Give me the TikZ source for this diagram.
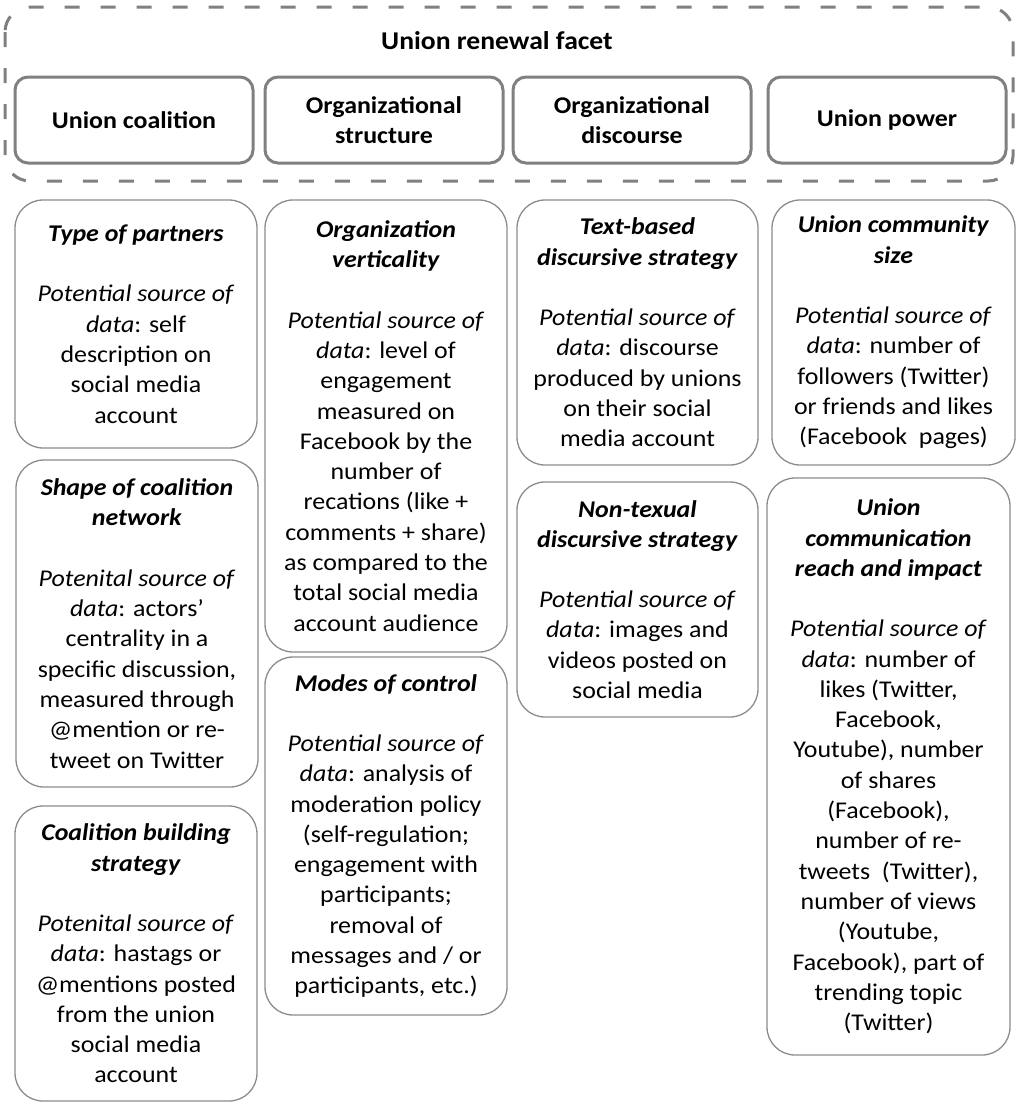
\documentclass[tikz,border=0pt]{standalone}
\usepackage{fontspec}
\setmainfont{Carlito}[FakeStretch=1.08]
\definecolor{facetgray}{RGB}{128,128,128}
\definecolor{itemgray}{RGB}{140,140,140}
\newcommand{\boxfont}{\fontsize{24}{30.3}\selectfont}
\tikzset{facet/.style = {draw=facetgray, line width=3pt, rounded corners=13pt,
                         minimum width=238pt, minimum height=86pt,
                         align=center, inner sep=0pt, font=\boxfont\bfseries},
         item/.style  = {draw=itemgray, line width=1.3pt, rounded corners=28pt,
                         align=center, inner sep=0pt, font=\boxfont}}
\newcommand{\ttl}[1]{\textbf{\textit{#1}}}
\newcommand{\srcdata}[1]{\textit{#1 source of}\\\textit{data}}

\begin{document}
\begin{tikzpicture}[x=1pt,y=-1pt]
    \useasboundingbox (0,0) rectangle (1018,1104);
    \draw[facetgray,line width=3pt,dash pattern=on 15pt off 21pt,rounded corners=25pt](5,7) rectangle (1013,181);
    \node[font=\fontsize{25.6}{30}\selectfont\bfseries](title) at (497,41){Union renewal facet};

        \node[facet](coal) at (134,120){Union coalition};
        \node[facet](struc) at (384,120){Organizational\\structure};
        \node[facet](disc) at (632,120){Organizational\\discourse};
        \node[facet](power) at (887,120){Union power};

        \node[item,minimum width=242pt,minimum height=248pt](partners) at (136,324)
            {\ttl{Type of partners}\\[30pt]
             \srcdata{Potential}: self\\description on\\social media\\account};
        \node[item,minimum width=242pt,minimum height=327pt](shape) at (137,623.5)
            {\ttl{Shape of coalition}\\\ttl{network}\\[30pt]
             \srcdata{Potenital}: actors’\\centrality in a\\specific discussion,\\measured through\\@mention or re-\\tweet on Twitter};
        \node[item,minimum width=242pt,minimum height=295pt](building) at (136,953.5)
            {\ttl{Coalition building}\\\ttl{strategy}\\[30pt]
             \srcdata{Potenital}: hastags or\\@mentions posted\\from the union\\social media\\account};

        \node[item,minimum width=242pt,minimum height=452pt](vert) at (386,426)
            {\ttl{Organization}\\\ttl{verticality}\\[30pt]
             \srcdata{Potential}: level of\\engagement\\measured on\\Facebook by the\\number of\\recations (like +\\comments + share)\\as compared to the\\total social media\\account audience};
        \node[item,minimum width=242pt,minimum height=358pt](control) at (386,836)
            {\ttl{Modes of control}\\[30pt]
             \srcdata{Potential}: analysis of\\moderation policy\\(self-regulation;\\engagement with\\participants;\\removal of\\messages and / or\\participants, etc.)};

        \node[item,minimum width=241pt,minimum height=265pt](textb) at (637.5,332.5)
            {\ttl{Text-based}\\\ttl{discursive strategy}\\[30pt]
             \srcdata{Potential}: discourse\\produced by unions\\on their social\\media account};
        \node[item,minimum width=241pt,minimum height=235pt](nontext) at (637.5,599.5)
            {\ttl{Non-texual}\\\ttl{discursive strategy}\\[30pt]
             \srcdata{Potential}: images and\\videos posted on\\social media};

        \node[item,minimum width=243pt,minimum height=265pt](size) at (893.5,332.5)
            {\ttl{Union community}\\\ttl{size}\\[30pt]
             \srcdata{Potential}: number of\\followers (Twitter)\\or friends and likes\\(Facebook~ pages)};
        \node[item,minimum width=243pt,minimum height=577pt](reach) at (888.5,766.5)
            {\ttl{Union}\\\ttl{communication}\\\ttl{reach and impact}\\[30pt]
             \srcdata{Potential}: number of\\likes (Twitter,\\Facebook,\\Youtube), number\\of shares\\(Facebook),\\number of re-\\tweets~ (Twitter),\\number of views\\(Youtube,\\Facebook), part of\\trending topic\\(Twitter)};
\end{tikzpicture}
\end{document}
